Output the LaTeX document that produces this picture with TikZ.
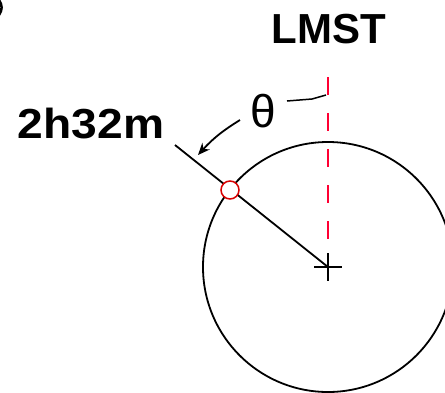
\documentclass[tikz,border=0pt]{standalone}
\usepackage{fontspec}
\setmainfont{Liberation Sans}
\usetikzlibrary{arrows.meta}
\begin{document}
\begin{tikzpicture}[x=1pt,y=-1pt,line width=1.8pt,
  bigtext/.style={font=\bfseries\fontsize{42}{42}\selectfont,inner sep=0pt},
  thetatext/.style={font=\fontsize{46}{46}\selectfont,inner sep=0pt},
  redmark/.style={circle,draw=red!85!black,fill=white,line width=1.5pt,minimum size=18pt,inner sep=0pt},
  meridian/.style={draw=red!80!magenta,line width=2pt,dash pattern=on 18pt off 18pt}]
\useasboundingbox (0,0) rectangle (445,392);
\clip (0,0) rectangle (445,392);
% partial character at top-left edge
\draw[line width=2.5pt] (-1,0) .. controls (2.5,5) and (2.5,10) .. (-1,15);
\coordinate (O) at (328,267);
\coordinate (E) at (175,145);
\coordinate (Mtop) at (328,77);
\coordinate (Mbot) at (328,239);
\draw (O) circle[radius=125];
\draw (O) -- (E);
\draw[meridian] (Mtop) -- (Mbot);
\draw (314,267) -- (342,267) (328,253) -- (328,281);
\node[redmark] (P) at (230,190) {};
\node[bigtext,anchor=base] (L) at (329,43) {LMST};
\node[bigtext,anchor=base west] (H) at (17,138) {\scalebox{1.1}[1]{2h32m}};
\node[thetatext,anchor=base] (T) at (263,127) {θ};
\coordinate (A1) at (240,120);
\coordinate (A2) at (198,155);
\draw[-{Stealth[length=12pt,width=10pt]}] (A1) to[bend right=8] (A2);
\coordinate (B1) at (287,101);
\coordinate (B2) at (312,99);
\coordinate (B3) at (326,95);
\draw[line width=1.5pt] (B1) -- (B2) -- (B3);
\end{tikzpicture}
\end{document}
